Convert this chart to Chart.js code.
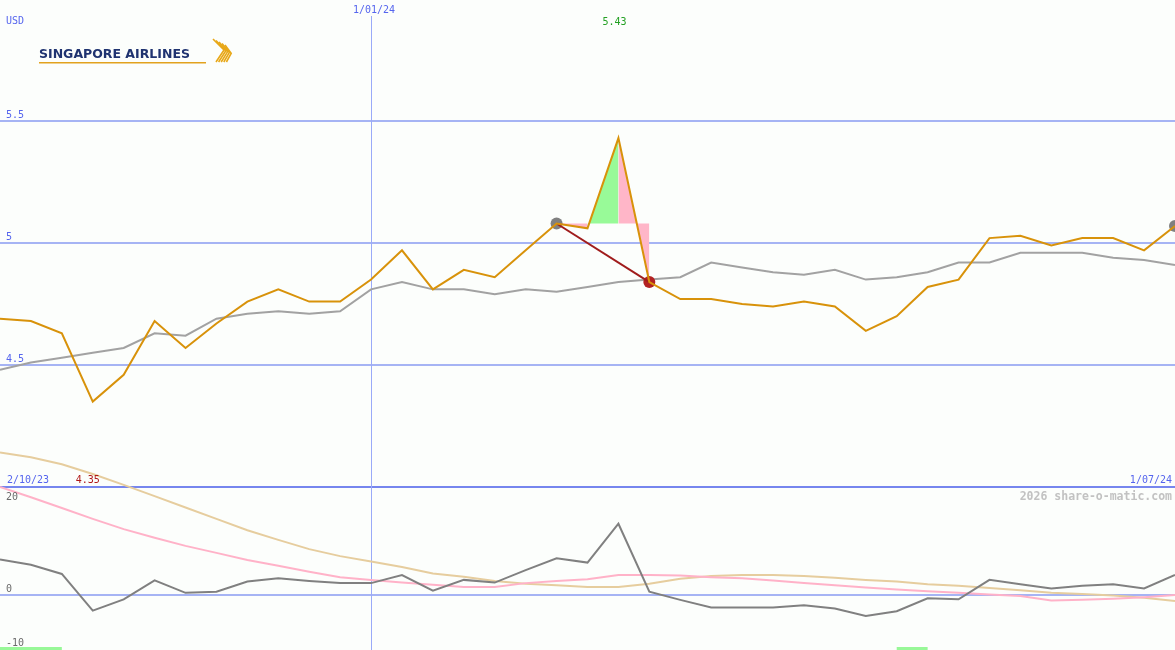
<!DOCTYPE html>
<html>
<head>
<meta charset="utf-8">
<script src="https://cdn.jsdelivr.net/npm/chart.js@4.4.0/dist/chart.umd.min.js"></script>
<style>
  html, body { margin: 0; padding: 0; background: #fcfefc; }
  canvas { display: block; }
</style>
</head>
<body>
<canvas id="chart" width="1175" height="650"></canvas>
<script>
// weekly closes, Singapore Airlines (USD)
const weeks = ['9/10/23','16/10/23','23/10/23','30/10/23','6/11/23','13/11/23','20/11/23','27/11/23',
  '4/12/23','11/12/23','18/12/23','25/12/23','1/01/24','8/01/24','15/01/24','22/01/24','29/01/24',
  '5/02/24','12/02/24','19/02/24','26/02/24','4/03/24','11/03/24','18/03/24','25/03/24','1/04/24',
  '8/04/24','15/04/24','22/04/24','29/04/24','6/05/24','13/05/24','20/05/24','27/05/24','3/06/24',
  '10/06/24','17/06/24','24/06/24','1/07/24'];

const price = [4.69,4.68,4.63,4.35,4.46,4.68,4.57,4.67,4.76,4.81,4.76,4.76,4.85,4.97,4.81,4.89,4.86,
  4.97,5.08,5.06,5.43,4.84,4.77,4.77,4.75,4.74,4.76,4.74,4.64,4.70,4.82,4.85,5.02,5.03,4.99,5.02,5.02,4.97,5.07];

const priceAvg = [4.48,4.51,4.53,4.55,4.57,4.63,4.62,4.69,4.71,4.72,4.71,4.72,4.81,4.84,4.81,4.81,4.79,
  4.81,4.80,4.82,4.84,4.85,4.86,4.92,4.90,4.88,4.87,4.89,4.85,4.86,4.88,4.92,4.92,4.96,4.96,4.96,4.94,4.93,4.91];

// lower panel
const oscA = [6.6,5.6,3.9,-2.9,-0.8,2.7,0.4,0.6,2.5,3.1,2.6,2.2,2.2,3.7,0.8,2.8,2.3,4.6,6.8,6.0,13.2,0.6,
  -0.9,-2.3,-2.3,-2.3,-1.9,-2.5,-3.9,-3.0,-0.6,-0.8,2.8,2.0,1.2,1.7,2.0,1.2,3.7];
const oscB = [20.0,18.1,16.1,14.1,12.2,10.6,9.1,7.8,6.5,5.4,4.3,3.3,2.8,2.3,1.9,1.5,1.5,2.2,2.6,2.9,3.7,3.7,
  3.6,3.3,3.1,2.7,2.2,1.8,1.4,1.0,0.7,0.4,0.1,-0.2,-1.0,-0.9,-0.7,-0.4,0.0];
const oscC = [26.4,25.5,24.2,22.4,20.4,18.3,16.2,14.1,12.0,10.2,8.5,7.2,6.2,5.2,4.0,3.4,2.6,2.1,1.8,1.5,1.5,
  2.1,3.0,3.5,3.7,3.7,3.5,3.2,2.8,2.5,2.0,1.7,1.3,0.9,0.4,0.2,-0.1,-0.5,-1.1];

const signalWeeks = [0, 1, 2, 29, 30];
const signalLevel = -9.9;

const swingFrom = 18, swingPeak = 20, swingTo = 21, lastWeek = 38;

const priceTicks = [4.5, 5, 5.5];
const priceTickLabels = ['4.5', '5', '5.5'];
const lowTicks = [20, 0, -10];
const lowTickLabels = ['20', '0', '-10'];
const markWeek = '1/01/24';
const rangeLabels = ['2/10/23', '1/07/24'];

const pick = (idx, src) => weeks.map((w, i) => idx.includes(i) ? src[i] : null);
const base = price[swingFrom];
const hi = Math.max(...price), lo = Math.min(...price);

const overlay = {
  id: 'overlay',
  beforeDatasetsDraw(chart) {
    // year-start marker line, crisp 1px
    const { ctx, scales: { x } } = chart;
    const mx = Math.round(x.getPixelForValue(weeks.indexOf(markWeek))) + 0.5;
    ctx.save();
    ctx.strokeStyle = '#9aaaf8';
    ctx.lineWidth = 1;
    ctx.beginPath();
    ctx.moveTo(mx, 16);
    ctx.lineTo(mx, 650);
    ctx.stroke();
    ctx.restore();
  },
  afterDraw(chart) {
    const { ctx, scales: { x, yP, yL } } = chart;
    ctx.save();
    ctx.textBaseline = 'alphabetic';
    ctx.font = '10px "DejaVu Sans Mono"';

    ctx.fillStyle = '#5565ee';
    ctx.textAlign = 'left';
    priceTicks.forEach((v, i) => ctx.fillText(priceTickLabels[i], 6, yP.getPixelForValue(v) - 3));
    ctx.fillText('USD', 6, 24);
    ctx.fillText(rangeLabels[0], 7, 483);
    ctx.textAlign = 'right';
    ctx.fillText(rangeLabels[1], 1172, 483);

    const mx = x.getPixelForValue(weeks.indexOf(markWeek));
    ctx.textAlign = 'center';
    ctx.fillText(markWeek, mx + 3, 13);

    ctx.fillStyle = '#6a6a6a';
    ctx.textAlign = 'left';
    lowTicks.forEach((v, i) => {
      const off = i === 0 ? 13 : -3;
      ctx.fillText(lowTickLabels[i], 6, yL.getPixelForValue(v) + off);
    });

    ctx.textAlign = 'center';
    ctx.fillStyle = '#22a022';
    ctx.fillText(hi.toFixed(2), x.getPixelForValue(price.indexOf(hi)) - 4, 25);
    ctx.fillStyle = '#b01818';
    ctx.fillText(lo.toFixed(2), x.getPixelForValue(price.indexOf(lo)) - 5, 483);

    ctx.font = 'bold 11.5px "DejaVu Sans Mono"';
    ctx.fillStyle = '#c2c2c2';
    ctx.textAlign = 'right';
    ctx.fillText('2026 share-o-matic.com', 1172, 500);

    // logo
    ctx.font = 'bold 12.5px "DejaVu Sans"';
    ctx.fillStyle = '#1f3370';
    ctx.textAlign = 'left';
    ctx.fillText('SINGAPORE AIRLINES', 39, 57.5, 163);
    ctx.fillStyle = '#e2a21e';
    ctx.fillRect(39, 62, 167, 1.5);
    ctx.strokeStyle = '#e8a818';
    ctx.lineWidth = 1.6;
    for (let k = 0; k < 5; k++) {
      ctx.beginPath();
      ctx.moveTo(213 + k * 3, 39 + k * 1.5);
      ctx.lineTo(224 + k * 1.8, 50 + k * 0.8);
      ctx.lineTo(216 + k * 2.6, 62);
      ctx.stroke();
    }
    ctx.restore();
  }
};

new Chart(document.getElementById('chart'), {
  type: 'line',
  data: {
    labels: weeks,
    datasets: [
      { data: price, yAxisID: 'yP', borderColor: '#d8920a', borderWidth: 2, pointRadius: 0 },
      { data: pick([swingFrom, swingTo], price), yAxisID: 'yP', spanGaps: true,
        borderColor: '#a01c1c', borderWidth: 2, pointRadius: 0 },
      { data: pick([swingFrom, swingTo, lastWeek], price), yAxisID: 'yP', showLine: false,
        pointRadius: 6, pointBorderWidth: 0,
        pointBackgroundColor: c => c.dataIndex === swingTo ? '#b22222' : '#808080' },
      { data: priceAvg, yAxisID: 'yP', borderColor: '#a2a2a2', borderWidth: 2, pointRadius: 0 },
      { data: pick([swingFrom, swingFrom + 1], price), yAxisID: 'yP', borderColor: 'transparent',
        borderWidth: 0, pointRadius: 0, fill: { value: base }, backgroundColor: '#ffb6c8' },
      { data: pick([swingPeak - 1, swingPeak], price), yAxisID: 'yP', borderColor: 'transparent',
        borderWidth: 0, pointRadius: 0, fill: { value: base }, backgroundColor: '#98fa98' },
      { data: pick([swingPeak, swingTo], price), yAxisID: 'yP', borderColor: 'transparent',
        borderWidth: 0, pointRadius: 0, fill: { value: base }, backgroundColor: '#ffb6c8' },
      { data: oscA, yAxisID: 'yL', borderColor: '#808080', borderWidth: 2, pointRadius: 0 },
      { data: oscB, yAxisID: 'yL', borderColor: '#ffb2c8', borderWidth: 2, pointRadius: 0 },
      { data: oscC, yAxisID: 'yL', borderColor: '#e6cd9e', borderWidth: 2, pointRadius: 0 },
      { data: pick(signalWeeks, weeks.map(() => signalLevel)), yAxisID: 'yL',
        borderColor: '#98f898', borderWidth: 3, pointRadius: 0 }
    ]
  },
  options: {
    responsive: false,
    animation: false,
    devicePixelRatio: 1,
    layout: { padding: 0, autoPadding: false },
    plugins: { legend: { display: false }, tooltip: { enabled: false } },
    elements: { line: { tension: 0, fill: false } },
    scales: {
      x: {
        display: false,
        offset: false
      },
      yP: {
        position: 'left',
        min: 3.33197, max: 5.9959,
        ticks: { display: false },
        border: { display: false },
        afterBuildTicks: s => { s.ticks = priceTicks.map(v => ({ value: v })); },
        grid: { drawTicks: false, color: '#a6b4f4', lineWidth: 2 }
      },
      yL: {
        position: 'left',
        min: -10.185, max: 110.185,
        ticks: { display: false },
        border: { display: false },
        afterBuildTicks: s => { s.ticks = [{ value: 0 }, { value: 20 }]; },
        grid: {
          drawTicks: false, lineWidth: 2,
          color: c => c.tick && c.tick.value === 20 ? '#7686ee' : '#a6b4f4'
        }
      }
    }
  },
  plugins: [overlay]
});
</script>
</body>
</html>
